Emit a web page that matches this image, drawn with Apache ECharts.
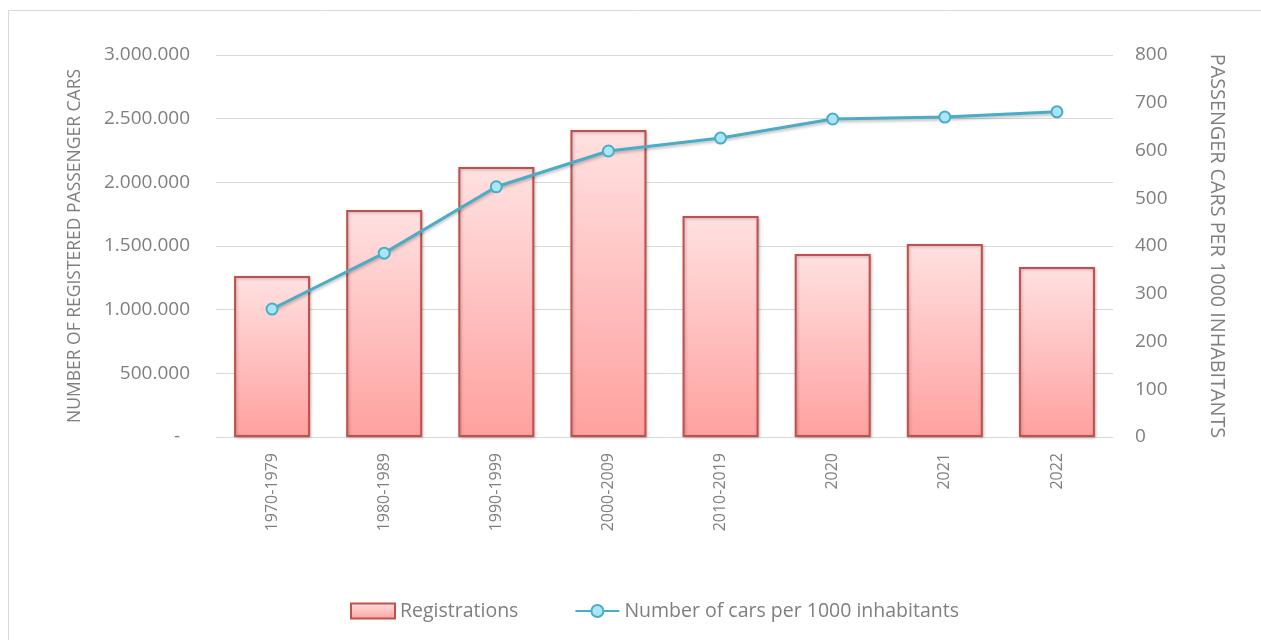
<!DOCTYPE html>
<html>
<head>
<meta charset="utf-8">
<script src="https://cdn.jsdelivr.net/npm/echarts@6/dist/echarts.min.js"></script>
<style>
  html, body { margin: 0; padding: 0; background: #fff; }
  #chart { width: 1261px; height: 640px; }
</style>
</head>
<body>
<div id="chart"></div>
<script>
// 数据
var categories = ['1970-1979', '1980-1989', '1990-1999', '2000-2009', '2010-2019', '2020', '2021', '2022']
var registrations = [1264000, 1783000, 2120000, 2411000, 1736000, 1437000, 1516000, 1335000]
var carsPer1000 = [268, 385, 524, 599, 626, 666, 670, 681]

var gray = '#7f7f7f'
var font = 'Open Sans'

function fmtDots (v) {
  if (v === 0) return '-  '
  return String(v).replace(/\B(?=(\d{3})+(?!\d))/g, '.')
}

var myChart = echarts.init(document.getElementById('chart'))
var option = {
  animation: false,
  textStyle: { fontFamily: font, color: gray },
  graphic: [{
    type: 'rect',
    shape: { x: 8.5, y: 10.5, width: 1300, height: 700 },
    style: { fill: 'none', stroke: '#d9d9d9', lineWidth: 1 },
    silent: true
  }],
  grid: {
    left: 216,
    right: 148,
    top: 55,
    bottom: 203
  },
  legend: {
    bottom: 14,
    left: 345,
    itemGap: 56,
    itemWidth: 44,
    itemHeight: 15,
    textStyle: { fontSize: 19.5, color: gray, fontFamily: font },
    data: [
      { name: 'Registrations', icon: 'rect' },
      { name: 'Number of cars per 1000 inhabitants' }
    ]
  },
  xAxis: {
    type: 'category',
    data: categories,
    axisTick: { show: false },
    axisLine: { lineStyle: { color: '#d9d9d9', width: 1 } },
    axisLabel: {
      rotate: 90,
      fontSize: 16,
      color: gray,
      margin: 16
    }
  },
  yAxis: [{
    type: 'value',
    min: 0,
    max: 3000000,
    interval: 500000,
    name: 'NUMBER OF REGISTERED PASSENGER CARS',
    nameLocation: 'middle',
    nameGap: 132,
    nameRotate: 90,
    nameTextStyle: { fontSize: 17.5, color: gray },
    axisLine: { show: false },
    axisTick: { show: false },
    axisLabel: {
      fontSize: 19,
      color: gray,
      margin: 26,
      formatter: fmtDots
    },
    splitLine: { lineStyle: { color: '#d9d9d9', width: 1 } }
  }, {
    type: 'value',
    min: 0,
    max: 800,
    interval: 100,
    name: 'PASSENGER CARS PER 1000 INHABITANTS',
    nameLocation: 'middle',
    nameGap: 94,
    nameRotate: -90,
    nameTextStyle: { fontSize: 19.8, color: gray },
    axisLine: { show: false },
    axisTick: { show: false },
    axisLabel: { fontSize: 19, color: gray, margin: 22 },
    splitLine: { show: false }
  }],
  series: [{
    name: 'Registrations',
    type: 'bar',
    data: registrations,
    barWidth: 76,
    itemStyle: {
      color: new echarts.graphic.LinearGradient(0, 0, 0, 1, [
        { offset: 0, color: '#ffe1e1' },
        { offset: 1, color: '#ffa19f' }
      ]),
      borderColor: '#c0504d',
      borderWidth: 2,
      shadowColor: 'rgba(0,0,0,0.25)',
      shadowBlur: 3,
      shadowOffsetX: 1,
      shadowOffsetY: 1
    }
  }, {
    name: 'Number of cars per 1000 inhabitants',
    type: 'line',
    yAxisIndex: 1,
    data: carsPer1000,
    symbol: 'circle',
    symbolSize: 11,
    lineStyle: {
      color: '#4bacc6',
      width: 3,
      shadowColor: 'rgba(0,0,0,0.25)',
      shadowBlur: 3,
      shadowOffsetY: 2
    },
    itemStyle: {
      color: '#a9e6f7',
      borderColor: '#4bacc6',
      borderWidth: 2
    }
  }]
}
myChart.setOption(option)
</script>
</body>
</html>
